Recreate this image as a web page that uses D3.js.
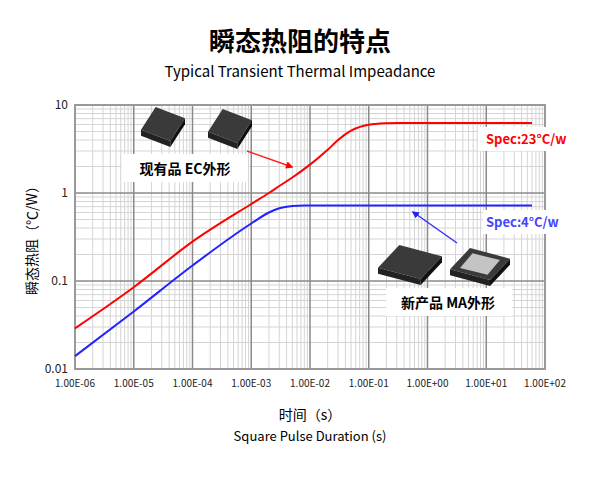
<!DOCTYPE html><html><head><meta charset="utf-8">
<script src="https://cdn.jsdelivr.net/npm/d3@7"></script>
<style>body{margin:0;background:#fff}text{font-family:"Noto Sans CJK SC","Noto Sans",sans-serif}</style></head><body>
<svg id="c" width="600" height="480"></svg>
<script>
const xTicks=[1e-6,1e-5,1e-4,1e-3,1e-2,1e-1,1,10,100];
const xTickLabels=["1.00E-06","1.00E-05","1.00E-04","1.00E-03","1.00E-02","1.00E-01","1.00E+00","1.00E+01","1.00E+02"];
const yTicks=[0.01,0.1,1,10];
const yTickLabels=["0.01","0.1","1","10"];
const redT=[1e-6,1e-5,1e-4,1e-3,2e-3,3e-3,5e-3,1e-2,2e-2,3e-2,5e-2,0.1,0.2,0.3,1,10,60];
const redV=[0.029,0.085,0.28,0.75,1.0,1.2,1.5,2.1,3.1,4.0,5.1,5.95,6.2,6.25,6.25,6.25,6.25];
const blueT=[1e-6,1e-5,1e-4,1e-3,2e-3,3e-3,5e-3,8e-3,1e-2,0.1,1,10,60];
const blueV=[0.014,0.045,0.15,0.45,0.6,0.67,0.71,0.72,0.72,0.72,0.72,0.72,0.72];
const svg=d3.select("#c");
const x=d3.scaleLog().domain([1e-6,100]).range([75,545]);
const y=d3.scaleLog().domain([0.01,10]).range([369,105]);
const g=svg.append("g");
const minorX=[],minorY=[];
for(let e=-6;e<2;e++)for(let k=2;k<10;k++)minorX.push(k*Math.pow(10,e));
for(let e=-2;e<1;e++)for(let k=2;k<10;k++)minorY.push(k*Math.pow(10,e));
g.selectAll(".mx").data(minorX).join("line").attr("x1",d=>x(d)).attr("x2",d=>x(d)).attr("y1",105).attr("y2",369).attr("stroke","#d4d4d4").attr("stroke-width",1);
g.selectAll(".my").data(minorY).join("line").attr("y1",d=>y(d)).attr("y2",d=>y(d)).attr("x1",75).attr("x2",545).attr("stroke","#d4d4d4").attr("stroke-width",1);
g.selectAll(".Mx").data(xTicks).join("line").attr("x1",d=>x(d)).attr("x2",d=>x(d)).attr("y1",105).attr("y2",369).attr("stroke","#8a8a8a").attr("stroke-width",1.5);
g.selectAll(".My").data(yTicks).join("line").attr("y1",d=>y(d)).attr("y2",d=>y(d)).attr("x1",75).attr("x2",545).attr("stroke","#8a8a8a").attr("stroke-width",1.5);
g.append("rect").attr("x",75).attr("y",105).attr("width",470).attr("height",264).attr("fill","none").attr("stroke","#999").attr("stroke-width",2);
svg.selectAll(".xl").data(xTicks).join("text").attr("x",d=>x(d)).attr("y",387).attr("text-anchor","middle").attr("font-size",10).attr("font-family","Liberation Sans").attr("fill","#222").text((d,i)=>xTickLabels[i]);
svg.selectAll(".yl").data(yTicks).join("text").attr("x",68).attr("y",d=>y(d)+4).attr("text-anchor","end").attr("font-size",12).attr("fill","#222").text((d,i)=>yTickLabels[i]);
const line=d3.line().x(d=>x(d[0])).y(d=>y(d[1])).curve(d3.curveMonotoneX);
svg.append("path").attr("d",line(redT.map((t,i)=>[t,redV[i]]))).attr("fill","none").attr("stroke","#f00").attr("stroke-width",2);
svg.append("path").attr("d",line(blueT.map((t,i)=>[t,blueV[i]]))).attr("fill","none").attr("stroke","#22f").attr("stroke-width",2);
function chip(cx,cy,w,h,lite){const c=svg.append("g").attr("transform",`translate(${cx},${cy})`);
c.append("path").attr("d",`M${-w/2},${h/6} L${w/6},${h/2} L${w/2},${-h/6} L${-w/6},${-h/2}Z`).attr("fill","#3a3a3a");
c.append("path").attr("d",`M${-w/2},${h/6} L${w/6},${h/2} L${w/6},${h/2+6} L${-w/2},${h/6+6}Z`).attr("fill","#222");
c.append("path").attr("d",`M${w/6},${h/2} L${w/2},${-h/6} L${w/2},${-h/6+6} L${w/6},${h/2+6}Z`).attr("fill","#111");
if(lite)c.append("path").attr("d",`M${-w/3},${h/8} L${w/8},${h/3} L${w/3},${-h/8} L${-w/8},${-h/3}Z`).attr("fill","#c4c4c4");}
chip(163,124,44,34,false);chip(230,126,44,34,false);
chip(410,262,64,34,false);chip(480,264,60,32,true);
svg.append("rect").attr("x",122).attr("y",154).attr("width",126).attr("height",28).attr("fill","#fff");
svg.append("text").attr("x",185).attr("y",174).attr("text-anchor","middle").attr("font-size",14).attr("font-weight","bold").text("现有品 EC外形");
svg.append("rect").attr("x",386).attr("y",288).attr("width",126).attr("height",28).attr("fill","#fff");
svg.append("text").attr("x",448).attr("y",308).attr("text-anchor","middle").attr("font-size",14).attr("font-weight","bold").text("新产品 MA外形");
svg.append("rect").attr("x",478).attr("y",127).attr("width",96).attr("height",24).attr("fill","#fff");
svg.append("text").attr("x",486).attr("y",144).attr("font-size",13).attr("font-weight","bold").attr("fill","#f00").text("Spec:23°C/w");
svg.append("rect").attr("x",483).attr("y",210).attr("width",78).attr("height",24).attr("fill","#fff");
svg.append("text").attr("x",486).attr("y",227).attr("font-size",13).attr("font-weight","bold").attr("fill","#44f").text("Spec:4°C/w");
const defs=svg.append("defs");
[["ar","#f00"],["ab","#22f"]].forEach(([id,c])=>defs.append("marker").attr("id",id).attr("viewBox","0 0 10 10").attr("refX",8).attr("refY",5).attr("markerWidth",5).attr("markerHeight",5).attr("orient","auto").append("path").attr("d","M0,0L10,5L0,10z").attr("fill",c));
svg.append("line").attr("x1",247).attr("y1",151).attr("x2",292).attr("y2",167).attr("stroke","#f22").attr("stroke-width",1.5).attr("marker-end","url(#ar)");
svg.append("line").attr("x1",457).attr("y1",243).attr("x2",413).attr("y2",212).attr("stroke","#33f").attr("stroke-width",1.5).attr("marker-end","url(#ab)");
svg.append("text").attr("x",300).attr("y",51).attr("text-anchor","middle").attr("font-size",26).attr("font-weight","bold").text("瞬态热阻的特点");
svg.append("text").attr("x",300).attr("y",77).attr("text-anchor","middle").attr("font-size",15).attr("font-family","Noto Sans").text("Typical Transient Thermal Impeadance");
svg.append("text").attr("transform","translate(37,237) rotate(-90)").attr("text-anchor","middle").attr("font-size",14).text("瞬态热阻（℃/W）");
svg.append("text").attr("x",310).attr("y",420).attr("text-anchor","middle").attr("font-size",14).text("时间（s）");
svg.append("text").attr("x",310).attr("y",441).attr("text-anchor","middle").attr("font-size",13).attr("font-family","Noto Sans").text("Square Pulse Duration (s)");
</script></body></html>
